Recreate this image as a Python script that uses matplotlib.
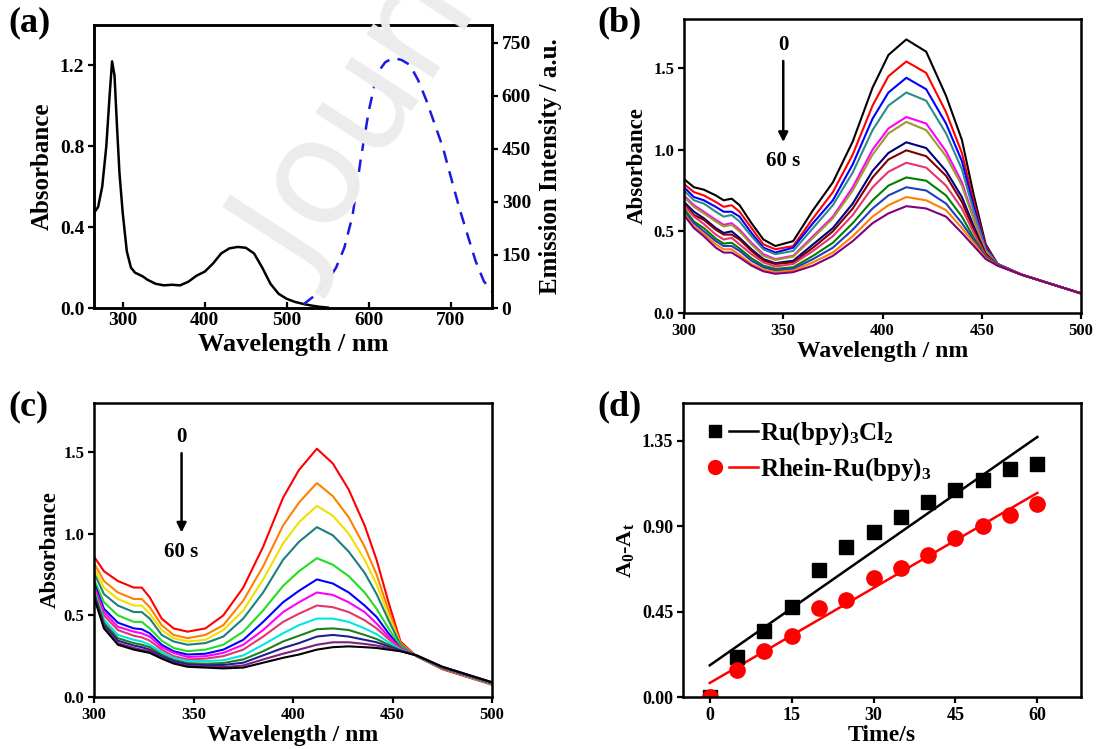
import matplotlib
matplotlib.use("Agg")
import matplotlib.pyplot as plt
from matplotlib.lines import Line2D
from matplotlib.legend_handler import HandlerTuple

# ---- panel (a): absorption + emission ----
wl_abs = [265, 270, 275, 280, 284, 287, 290, 293, 296, 300, 305, 310, 315, 320, 325, 330,
          340, 350, 360, 370, 380, 390, 400, 410, 420, 430, 440, 450, 460, 470, 480, 490,
          500, 510, 520, 530, 540, 550]
absorbance = [0.47, 0.50, 0.60, 0.80, 1.05, 1.22, 1.15, 0.90, 0.67, 0.47, 0.28, 0.20, 0.175,
              0.165, 0.155, 0.14, 0.12, 0.112, 0.115, 0.112, 0.13, 0.16, 0.18, 0.22, 0.27,
              0.295, 0.302, 0.298, 0.27, 0.20, 0.12, 0.07, 0.045, 0.03, 0.02, 0.012, 0.006, 0.002]
wl_em = [520, 530, 540, 550, 560, 570, 580, 590, 600, 610, 620, 630, 640, 650, 660, 670,
         680, 690, 700, 710, 720, 730, 740, 750]
emission = [10, 28, 47, 78, 114, 170, 260, 420, 559, 663, 695, 707, 701, 687, 644, 587,
            521, 455, 369, 284, 208, 133, 76, 47]

# ---- panel (b): Ru(bpy)3Cl2 spectra, 0 -> 60 s ----
wl_b = [300, 305, 310, 316, 320, 324, 328, 334, 340, 346, 355, 365, 375, 385, 395, 403,
        412, 422, 432, 440, 446, 452, 458, 470, 500]
spectra_b = [
    [0.82, 0.77, 0.755, 0.72, 0.69, 0.70, 0.66, 0.55, 0.45, 0.41, 0.44, 0.63, 0.80, 1.05, 1.38, 1.58, 1.675, 1.60, 1.33, 1.06, 0.72, 0.42, 0.30, 0.235, 0.12],
    [0.79, 0.74, 0.72, 0.68, 0.65, 0.66, 0.62, 0.52, 0.42, 0.39, 0.41, 0.58, 0.74, 0.97, 1.27, 1.45, 1.54, 1.47, 1.23, 0.98, 0.68, 0.41, 0.30, 0.235, 0.12],
    [0.77, 0.71, 0.69, 0.65, 0.62, 0.62, 0.59, 0.49, 0.40, 0.37, 0.40, 0.55, 0.69, 0.91, 1.19, 1.35, 1.44, 1.37, 1.16, 0.93, 0.65, 0.40, 0.30, 0.235, 0.12],
    [0.75, 0.69, 0.67, 0.62, 0.59, 0.60, 0.56, 0.47, 0.39, 0.36, 0.38, 0.52, 0.66, 0.86, 1.12, 1.27, 1.35, 1.30, 1.10, 0.88, 0.62, 0.39, 0.30, 0.235, 0.12],
    [0.72, 0.66, 0.62, 0.57, 0.54, 0.55, 0.51, 0.43, 0.36, 0.33, 0.35, 0.47, 0.59, 0.77, 1.00, 1.13, 1.20, 1.16, 0.99, 0.80, 0.58, 0.38, 0.295, 0.235, 0.12],
    [0.71, 0.65, 0.61, 0.56, 0.53, 0.54, 0.50, 0.42, 0.35, 0.325, 0.345, 0.46, 0.58, 0.75, 0.97, 1.10, 1.17, 1.12, 0.96, 0.78, 0.57, 0.375, 0.295, 0.235, 0.12],
    [0.68, 0.62, 0.58, 0.52, 0.49, 0.50, 0.46, 0.39, 0.33, 0.305, 0.32, 0.42, 0.52, 0.67, 0.87, 0.98, 1.045, 1.01, 0.87, 0.71, 0.53, 0.36, 0.294, 0.235, 0.12],
    [0.67, 0.60, 0.57, 0.51, 0.48, 0.48, 0.45, 0.38, 0.32, 0.30, 0.31, 0.40, 0.50, 0.64, 0.83, 0.94, 0.996, 0.96, 0.84, 0.68, 0.51, 0.36, 0.293, 0.235, 0.12],
    [0.66, 0.59, 0.545, 0.48, 0.45, 0.46, 0.42, 0.36, 0.31, 0.285, 0.30, 0.38, 0.47, 0.60, 0.77, 0.865, 0.92, 0.89, 0.78, 0.64, 0.49, 0.35, 0.293, 0.235, 0.12],
    [0.64, 0.56, 0.52, 0.455, 0.425, 0.43, 0.395, 0.335, 0.29, 0.27, 0.28, 0.35, 0.43, 0.55, 0.69, 0.78, 0.83, 0.81, 0.72, 0.59, 0.46, 0.345, 0.292, 0.235, 0.12],
    [0.62, 0.55, 0.50, 0.44, 0.41, 0.41, 0.38, 0.32, 0.28, 0.26, 0.27, 0.33, 0.40, 0.51, 0.64, 0.72, 0.77, 0.75, 0.67, 0.55, 0.445, 0.34, 0.291, 0.235, 0.12],
    [0.61, 0.53, 0.485, 0.42, 0.39, 0.39, 0.355, 0.30, 0.265, 0.25, 0.26, 0.31, 0.37, 0.47, 0.59, 0.66, 0.71, 0.69, 0.63, 0.52, 0.43, 0.335, 0.29, 0.235, 0.12],
    [0.60, 0.52, 0.47, 0.40, 0.37, 0.37, 0.34, 0.29, 0.255, 0.24, 0.25, 0.29, 0.35, 0.44, 0.55, 0.61, 0.654, 0.64, 0.59, 0.49, 0.41, 0.33, 0.29, 0.235, 0.12],
]
colors_b = ['#000000', '#ff0000', '#0000ff', '#2e8b8b', '#ff00ff', '#9b9b2a', '#000080',
            '#800000', '#e8336e', '#008000', '#1f3fbf', '#ff8000', '#800080']

# ---- panel (c): Rhein-Ru(bpy)3 spectra, 0 -> 60 s ----
wl_c = [300, 305, 312, 320, 324, 328, 334, 340, 347, 356, 365, 375, 385, 395, 403, 412,
        420, 428, 436, 442, 448, 454, 462, 475, 500]
spectra_c = [
    [0.86, 0.77, 0.71, 0.67, 0.67, 0.61, 0.48, 0.42, 0.40, 0.42, 0.50, 0.67, 0.92, 1.22, 1.39, 1.52, 1.43, 1.27, 1.05, 0.84, 0.58, 0.34, 0.25, 0.17, 0.075],
    [0.82, 0.71, 0.64, 0.60, 0.60, 0.55, 0.44, 0.38, 0.36, 0.38, 0.44, 0.59, 0.80, 1.05, 1.19, 1.31, 1.23, 1.10, 0.92, 0.75, 0.53, 0.33, 0.25, 0.175, 0.078],
    [0.79, 0.67, 0.60, 0.56, 0.56, 0.51, 0.41, 0.36, 0.34, 0.35, 0.41, 0.53, 0.72, 0.94, 1.07, 1.17, 1.11, 1.00, 0.84, 0.69, 0.50, 0.32, 0.25, 0.175, 0.079],
    [0.76, 0.63, 0.56, 0.52, 0.52, 0.48, 0.38, 0.34, 0.32, 0.33, 0.37, 0.48, 0.64, 0.84, 0.95, 1.04, 0.99, 0.89, 0.76, 0.63, 0.47, 0.32, 0.25, 0.176, 0.08],
    [0.72, 0.58, 0.50, 0.46, 0.46, 0.42, 0.345, 0.30, 0.28, 0.29, 0.32, 0.40, 0.53, 0.68, 0.77, 0.85, 0.81, 0.74, 0.64, 0.54, 0.42, 0.31, 0.252, 0.178, 0.082],
    [0.70, 0.54, 0.455, 0.42, 0.415, 0.39, 0.32, 0.28, 0.26, 0.265, 0.29, 0.35, 0.46, 0.58, 0.65, 0.72, 0.695, 0.64, 0.56, 0.49, 0.39, 0.30, 0.253, 0.179, 0.084],
    [0.68, 0.52, 0.43, 0.40, 0.39, 0.37, 0.305, 0.27, 0.245, 0.25, 0.27, 0.32, 0.41, 0.52, 0.58, 0.64, 0.625, 0.58, 0.52, 0.45, 0.37, 0.30, 0.253, 0.18, 0.085],
    [0.67, 0.50, 0.41, 0.375, 0.365, 0.345, 0.29, 0.25, 0.23, 0.235, 0.25, 0.29, 0.37, 0.46, 0.51, 0.56, 0.55, 0.52, 0.47, 0.42, 0.355, 0.295, 0.254, 0.181, 0.086],
    [0.65, 0.475, 0.38, 0.35, 0.34, 0.32, 0.275, 0.24, 0.22, 0.22, 0.225, 0.255, 0.32, 0.39, 0.44, 0.48, 0.48, 0.46, 0.42, 0.385, 0.335, 0.29, 0.254, 0.182, 0.087],
    [0.64, 0.455, 0.36, 0.33, 0.32, 0.305, 0.26, 0.227, 0.207, 0.204, 0.208, 0.23, 0.28, 0.34, 0.375, 0.415, 0.42, 0.41, 0.38, 0.355, 0.32, 0.286, 0.255, 0.183, 0.088],
    [0.63, 0.44, 0.345, 0.315, 0.305, 0.29, 0.25, 0.22, 0.20, 0.195, 0.196, 0.21, 0.255, 0.30, 0.33, 0.37, 0.38, 0.37, 0.35, 0.335, 0.31, 0.284, 0.255, 0.184, 0.089],
    [0.62, 0.43, 0.33, 0.30, 0.29, 0.28, 0.24, 0.21, 0.19, 0.186, 0.183, 0.193, 0.23, 0.265, 0.29, 0.32, 0.335, 0.335, 0.325, 0.315, 0.30, 0.282, 0.255, 0.185, 0.09],
    [0.61, 0.42, 0.32, 0.29, 0.28, 0.27, 0.235, 0.205, 0.185, 0.18, 0.175, 0.18, 0.21, 0.24, 0.26, 0.29, 0.305, 0.31, 0.305, 0.30, 0.29, 0.28, 0.255, 0.185, 0.09],
]
colors_c = ['#ff0000', '#ff8000', '#f0e000', '#1f7f7f', '#22dd22', '#0000ff', '#ff00ff',
            '#e6336e', '#00e5e5', '#1f7f1f', '#1f1f8f', '#7f1f7f', '#000000']

# ---- panel (d): A0 - At vs time ----
time_s = [0, 5, 10, 15, 20, 25, 30, 35, 40, 45, 50, 55, 60]
ru_cl2 = [0.0, 0.21, 0.35, 0.475, 0.67, 0.79, 0.87, 0.95, 1.03, 1.09, 1.145, 1.20, 1.23]
rhein_ru = [0.0, 0.14, 0.24, 0.32, 0.47, 0.51, 0.63, 0.68, 0.75, 0.84, 0.90, 0.96, 1.02]
fit_t = [0, 60]
fit_ru_cl2 = [0.167, 1.371]
fit_rhein_ru = [0.074, 1.076]

plt.rcParams['font.family'] = ['Liberation Serif', 'DejaVu Serif']
plt.rcParams['font.weight'] = 'bold'
plt.rcParams['axes.labelweight'] = 'bold'
plt.rcParams['mathtext.fontset'] = 'custom'
plt.rcParams['mathtext.rm'] = 'Liberation Serif:bold'
plt.rcParams['mathtext.it'] = 'Liberation Serif:bold'
plt.rcParams['mathtext.bf'] = 'Liberation Serif:bold'

W, H = 1096, 749
fig = plt.figure(figsize=(W / 100, H / 100), dpi=100)

# faint watermark behind everything (runs off the top edge, as in the source)
fig.text(215 / W, 1 - 300 / H, "Journal", fontsize=105, color='#ececec',
         rotation=57, ha='left', va='bottom', fontfamily='DejaVu Sans',
         fontweight='normal', zorder=0)


def px_axes(left, top, right, bottom):
    ax = fig.add_axes([left / W, 1 - bottom / H, (right - left) / W, (bottom - top) / H])
    ax.set_facecolor('none')
    for s in ax.spines.values():
        s.set_linewidth(1.8)
    return ax


def style_ticks(ax, size, direction='out'):
    ax.tick_params(axis='both', which='major', labelsize=size, width=1.6, length=4,
                   direction=direction, pad=3)


# (a)
ax_a = px_axes(94, 25, 492, 308)
ax_a.plot(wl_abs, absorbance, color='black', lw=1.8)
ax_a.set_xlim(265, 750)
ax_a.set_ylim(0, 1.4)
ax_a.set_xticks([300, 400, 500, 600, 700])
ax_a.set_yticks([0.0, 0.4, 0.8, 1.2])
ax_a.set_yticklabels(['0.0', '0.4', '0.8', '1.2'])
style_ticks(ax_a, 14)
ax_a.tick_params(axis='x', direction='in')
ax_a.set_xlabel('Wavelength / nm', fontsize=19, labelpad=3)
ax_a.set_ylabel('Absorbance', fontsize=18, labelpad=4)
ax_a2 = ax_a.twinx()
ax_a2.plot(wl_em, emission, color='#1a1ae0', lw=1.8, ls=(0, (5, 3.5)))
ax_a2.set_ylim(0, 800)
ax_a2.set_yticks([0, 150, 300, 450, 600, 750])
ax_a2.tick_params(axis='y', labelsize=14, width=1.6, length=4, direction='out', pad=3)
ax_a2.set_ylabel('Emission Intensity / a.u.', fontsize=18, labelpad=6)
for s in ax_a2.spines.values():
    s.set_linewidth(1.8)
fig.text(8 / W, 1 - 6 / H, '(a)', fontsize=26, fontweight='bold', va='top')

# (b)
ax_b = px_axes(684, 19, 1081, 313)
for vals, col in zip(spectra_b, colors_b):
    ax_b.plot(wl_b, vals, color=col, lw=1.5)
ax_b.set_xlim(300, 500)
ax_b.set_ylim(0, 1.8)
ax_b.set_xticks([300, 350, 400, 450, 500])
ax_b.set_yticks([0.0, 0.5, 1.0, 1.5])
style_ticks(ax_b, 12)
ax_b.set_xlabel('Wavelength / nm', fontsize=17, labelpad=2)
ax_b.set_ylabel('Absorbance', fontsize=16.5, labelpad=4)
ax_b.text(350, 1.64, '0', fontsize=15, ha='center', va='center')
ax_b.annotate('', xy=(350, 1.03), xytext=(350, 1.56),
              arrowprops=dict(arrowstyle='-|>', color='black', lw=1.8, mutation_scale=14))
ax_b.text(350, 0.93, '60 s', fontsize=15, ha='center', va='center')
fig.text(597 / W, 1 - 6 / H, '(b)', fontsize=26, fontweight='bold', va='top')

# (c)
ax_c = px_axes(94, 403, 492, 697)
for vals, col in zip(spectra_c, colors_c):
    ax_c.plot(wl_c, vals, color=col, lw=1.5)
ax_c.set_xlim(300, 500)
ax_c.set_ylim(0, 1.8)
ax_c.set_xticks([300, 350, 400, 450, 500])
ax_c.set_yticks([0.0, 0.5, 1.0, 1.5])
style_ticks(ax_c, 12)
ax_c.set_xlabel('Wavelength / nm', fontsize=17, labelpad=2)
ax_c.set_ylabel('Absorbance', fontsize=16.5, labelpad=2)
ax_c.text(344, 1.59, '0', fontsize=15, ha='center', va='center')
ax_c.annotate('', xy=(344, 0.99), xytext=(344, 1.51),
              arrowprops=dict(arrowstyle='-|>', color='black', lw=1.8, mutation_scale=14))
ax_c.text(344, 0.89, '60 s', fontsize=15, ha='center', va='center')
fig.text(8 / W, 1 - 390 / H, '(c)', fontsize=26, fontweight='bold', va='top')

# (d)
ax_d = px_axes(683, 403, 1081, 697)
ax_d.plot(fit_t, fit_ru_cl2, color='black', lw=1.8)
ax_d.plot(fit_t, fit_rhein_ru, color='#ff0000', lw=1.8)
ax_d.plot(time_s, ru_cl2, ls='none', marker='s', ms=10, color='black')
ax_d.plot(time_s, rhein_ru, ls='none', marker='o', ms=11, color='#ff0000')
ax_d.set_xlim(-4.9, 68)
ax_d.set_ylim(0, 1.55)
ax_d.set_xticks([0, 15, 30, 45, 60])
ax_d.set_yticks([0.0, 0.45, 0.90, 1.35])
ax_d.set_yticklabels(['0.00', '0.45', '0.90', '1.35'])
style_ticks(ax_d, 13)
ax_d.set_xlabel('Time/s', fontsize=17, labelpad=1)
ax_d.set_ylabel(r'A$_\mathrm{0}$-A$_\mathrm{t}$', fontsize=16, labelpad=4)
h1 = (Line2D([], [], ls='none', marker='s', ms=9, color='black'),
      Line2D([], [], color='black', lw=1.8))
h2 = (Line2D([], [], ls='none', marker='o', ms=10, color='#ff0000'),
      Line2D([], [], color='#ff0000', lw=1.8))
ax_d.legend([h1, h2], [r'Ru(bpy)$_3$Cl$_2$', r'Rhein-Ru(bpy)$_3$'],
            handler_map={tuple: HandlerTuple(ndivide=None, pad=0.0)},
            loc='upper left', frameon=False, fontsize=18, handlelength=2.3,
            handletextpad=0.1, borderaxespad=0.3, labelspacing=0.35,
            bbox_to_anchor=(0.0, 1.0))
fig.text(597 / W, 1 - 390 / H, '(d)', fontsize=26, fontweight='bold', va='top')

fig.savefig('out.png', dpi=100)
